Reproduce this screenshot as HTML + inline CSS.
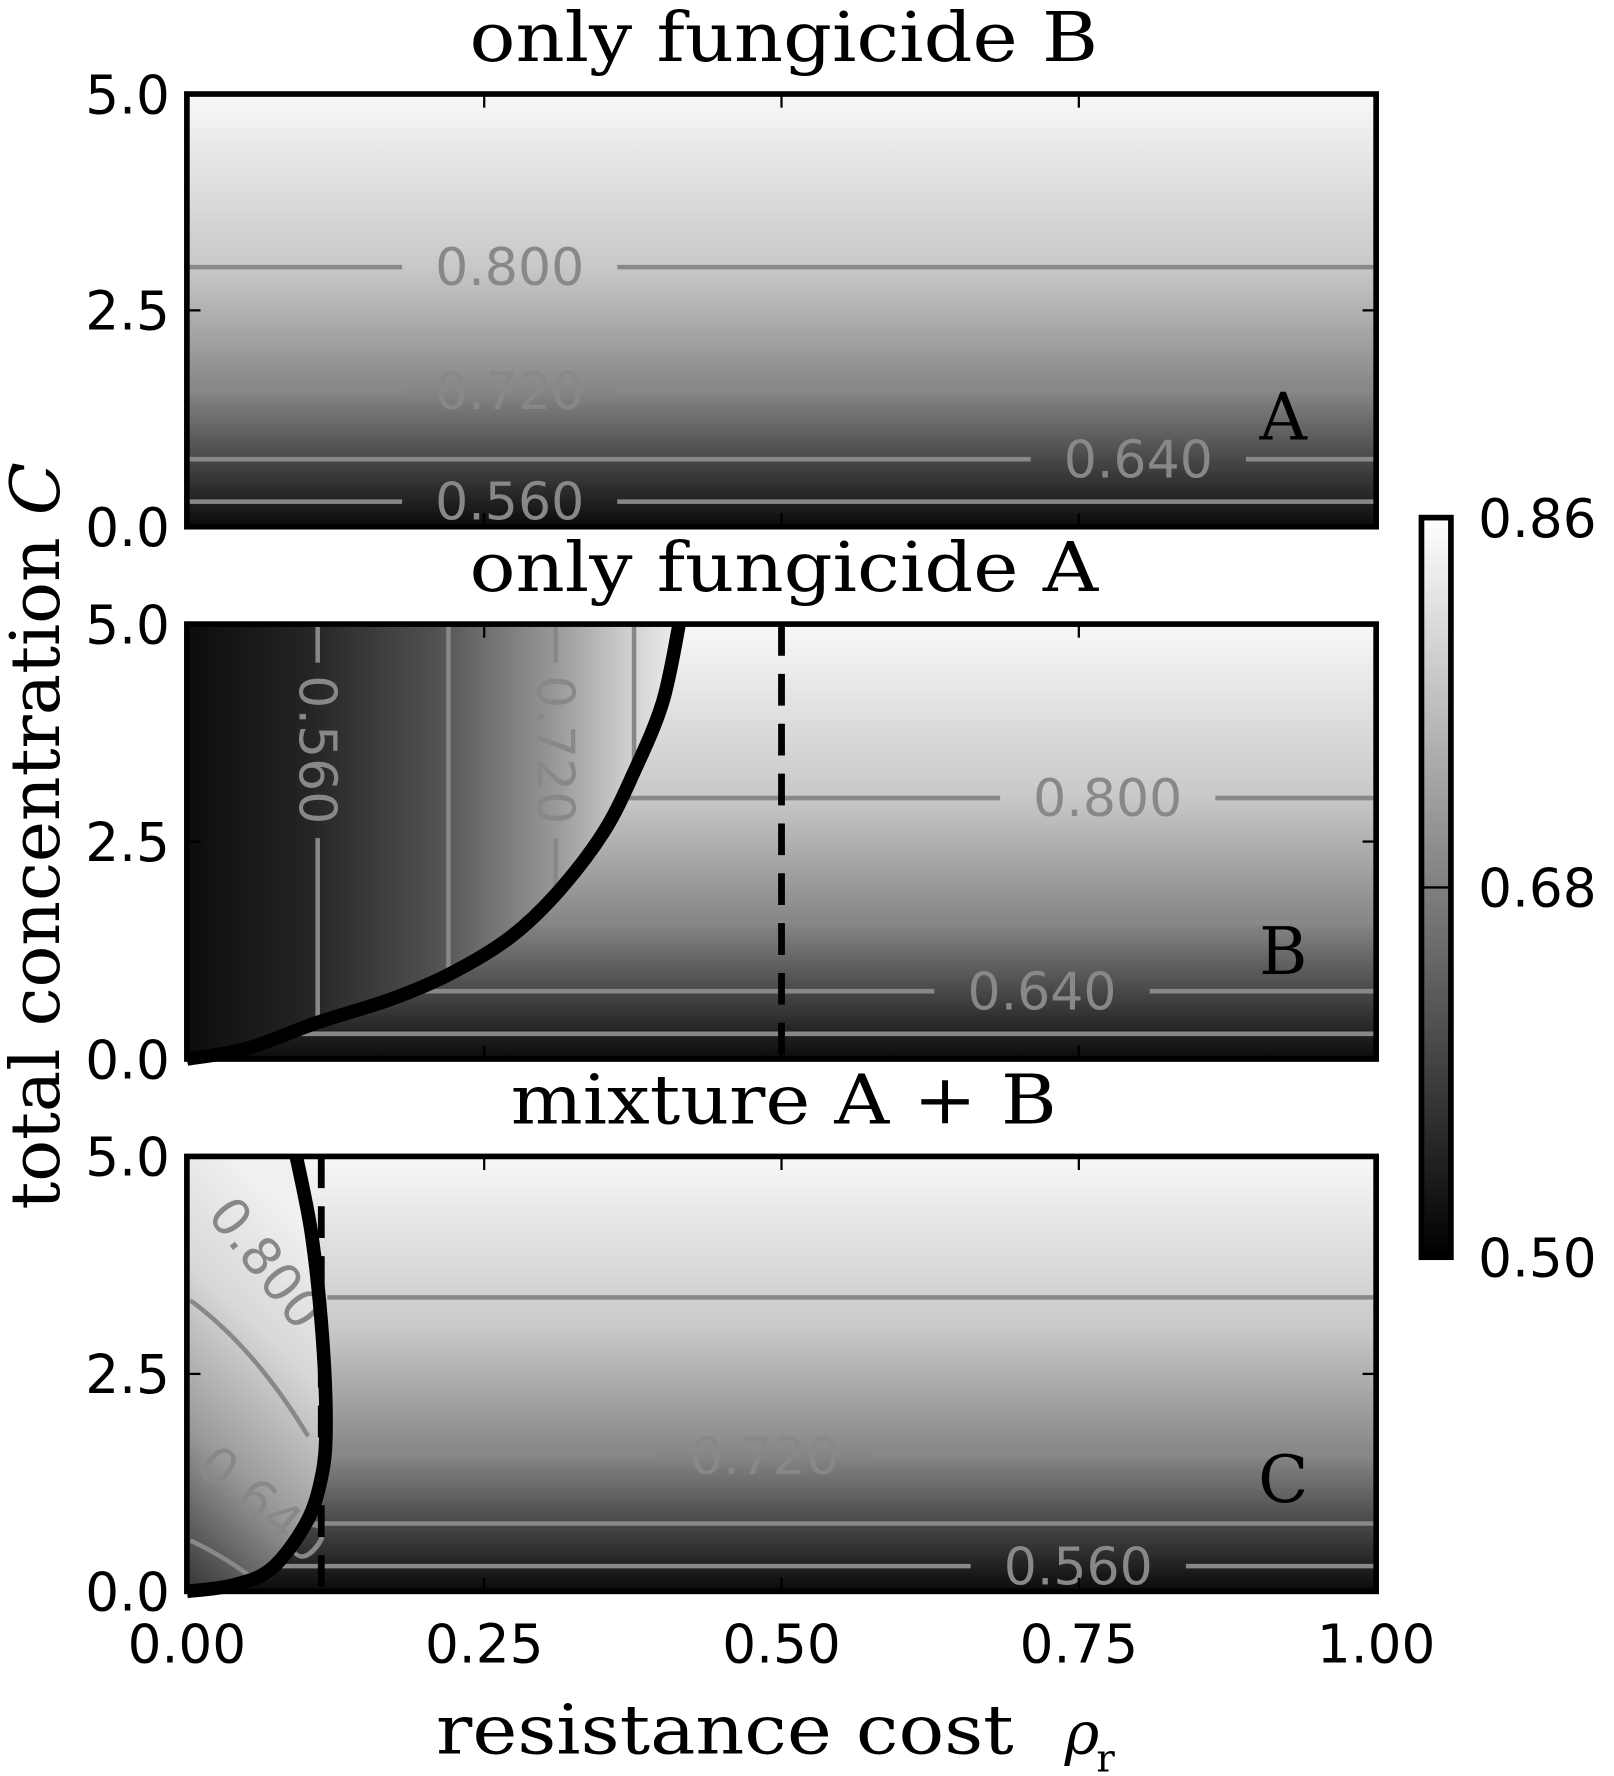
<!DOCTYPE html>
<html><head><meta charset="utf-8"><style>
html,body{margin:0;padding:0;background:#fff}
svg{display:block}
</style></head><body>
<svg id="fig" width="1614" height="1776" viewBox="0 0 1425 1568" xmlns="http://www.w3.org/2000/svg">
<defs>
<linearGradient id="vgrad" x1="0" y1="0" x2="0" y2="1">
<stop offset="0" stop-color="#f8f8f8"/><stop offset="0.4" stop-color="#c8c8c8"/><stop offset="0.69" stop-color="#858585"/><stop offset="0.84" stop-color="#4a4a4a"/><stop offset="0.94" stop-color="#222"/><stop offset="1" stop-color="#0a0a0a"/></linearGradient>
<linearGradient id="hgradB" x1="0" y1="0" x2="1" y2="0">
<stop offset="0" stop-color="#0c0c0c"/><stop offset="0.25" stop-color="#252525"/><stop offset="0.5" stop-color="#505050"/><stop offset="0.75" stop-color="#999"/><stop offset="0.9" stop-color="#d0d0d0"/><stop offset="1" stop-color="#eee"/></linearGradient>
<linearGradient id="gradC" x1="0" y1="1" x2="0.3" y2="0">
<stop offset="0" stop-color="#333"/><stop offset="0.35" stop-color="#999"/><stop offset="0.7" stop-color="#d8d8d8"/><stop offset="1" stop-color="#f0f0f0"/></linearGradient>
<linearGradient id="cbar" x1="0" y1="1" x2="0" y2="0"><stop offset="0" stop-color="#000"/><stop offset="1" stop-color="#fff"/></linearGradient>
</defs>
<g id="root"></g>
</svg>
<script>
// ---- data ----
const xTicks = [0, 0.25, 0.5, 0.75, 1.0];
const xTickLabels = ["0.00","0.25","0.50","0.75","1.00"];
const yTicks = [0, 2.5, 5.0];
const yTickLabels = ["0.0","2.5","5.0"];
const panelTitles = ["only fungicide B","only fungicide A","mixture A + B"];
const panelLetters = ["A","B","C"];
const hLevelsA = [3.0, 1.57, 0.78, 0.29];
const hLabelsA = ["0.800","0.720","0.640","0.560"];
const hLevelsB = [3.0, 1.57, 0.78, 0.29];
const hLabelsB = ["0.800","","0.640",""];
const hLevelsC = [3.38, 1.56, 0.78, 0.29];
const hLabelsC = ["","0.720","","0.560"];
const vLevelsB = [0.11, 0.22, 0.31, 0.376];
const vLabelsB = ["0.560","","0.720",""];
const curveBrho = [0, 0.05, 0.11, 0.17, 0.22, 0.27, 0.31, 0.35, 0.376, 0.40, 0.414];
const curveBC   = [0, 0.12, 0.42, 0.68, 0.97, 1.38, 1.89, 2.6, 3.3, 4.1, 5.0];
const curveCrho = [0, 0.038, 0.071, 0.1, 0.113, 0.117, 0.114, 0.105, 0.092];
const curveCC   = [0, 0.07, 0.26, 0.78, 1.3, 1.88, 2.92, 4.09, 5.0];
const dashB = 0.5, dashC = 0.113;
const cbarTicks = [0.50, 0.68, 0.86];

// ---- layout ----
const NS="http://www.w3.org/2000/svg";
const root=document.getElementById('root');
const X0=165,X1=1215;
const panels=[{top:83,bot:465},{top:551,bot:935},{top:1021,bot:1405}];
const sx=r=>X0+(X1-X0)*r;
function mk(tag,attrs,parent,text){const e=document.createElementNS(NS,tag);for(const k in attrs)e.setAttribute(k,attrs[k]);if(text!==undefined)e.textContent=text;(parent||root).appendChild(e);return e;}
const serif='"DejaVu Serif","Liberation Serif",serif', sans='"DejaVu Sans","Liberation Sans",sans-serif';
function smooth(pts){let d=`M${pts[0][0]},${pts[0][1]}`;for(let i=0;i<pts.length-1;i++){const p0=pts[Math.max(0,i-1)],p1=pts[i],p2=pts[i+1],p3=pts[Math.min(pts.length-1,i+2)];
 d+=` C${p1[0]+(p2[0]-p0[0])/6},${p1[1]+(p2[1]-p0[1])/6} ${p2[0]-(p3[0]-p1[0])/6},${p2[1]-(p3[1]-p1[1])/6} ${p2[0]},${p2[1]}`;}return d;}

panels.forEach((p,i)=>{
  const sy=c=>p.bot-(p.bot-p.top)*c/5;
  const g=mk('g',{});
  
  
  const bg=mk('rect',{x:X0,y:p.top,width:X1-X0,height:p.bot-p.top,fill:'url(#vgrad)'},g);
  
  
  const lv=[hLevelsA,hLevelsB,hLevelsC][i], lb=[hLabelsA,hLabelsB,hLabelsC][i];
  let curve=null;
  if(i===1){curve=curveBrho.map((r,k)=>[sx(r),sy(curveBC[k])]);}
  if(i===2){curve=curveCrho.map((r,k)=>[sx(r),sy(curveCC[k])]);}
  const curveXat=c=>{ if(!curve) return X0; const y=sy(c); for(let k=0;k<curve.length-1;k++){const a=curve[k],b=curve[k+1];if((y<=a[1]&&y>=b[1])||(y>=a[1]&&y<=b[1])){const t=(y-a[1])/((b[1]-a[1])||1);return a[0]+t*(b[0]-a[0]);}} return X0;};
  if(curve){
    const d=smooth(curve)+` L${X0},${p.top} L${X0},${p.bot} Z`;
    const reg=mk('path',{d:d,fill:i===1?'url(#hgradB)':'url(#gradC)'},g);
    
    
  }
  const labelX=[[450,450,1005,450],[978,978,920,978],[675,675,675,952]][i];
  lv.forEach((c,k)=>{
    const y=sy(c); let xs=i===2?curveXat(c)+8:(i===1?Math.max(X0,curveXat(c)):X0);
    const lab=lb[k];
    const lx=labelX[k];
    if(lab){
      mk('line',{x1:xs,y1:y,x2:lx-95,y2:y,stroke:'#888','stroke-width':4},g);
      mk('line',{x1:lx+95,y1:y,x2:X1,y2:y,stroke:'#888','stroke-width':4},g);
      const t=mk('text',{x:lx,y:y+16,'font-family':sans,'font-size':46,fill:'#888','text-anchor':'middle'},g,lab);
      
      
    } else mk('line',{x1:xs,y1:y,x2:X1,y2:y,stroke:'#888','stroke-width':4},g);
  });
  if(i===1){
    vLevelsB.forEach((r,k)=>{
      const x=sx(r); let ytop=p.top;
      let ybot=p.bot; for(let m=0;m<curve.length-1;m++){if(curve[m][0]<=x&&curve[m+1][0]>=x){const t=(x-curve[m][0])/(curve[m+1][0]-curve[m][0]);ybot=curve[m][1]+t*(curve[m+1][1]-curve[m][1]);}}
      if(vLabelsB[k]){
        mk('line',{x1:x,y1:ytop,x2:x,y2:585,stroke:'#888','stroke-width':4},g);
        mk('line',{x1:x,y1:740,x2:x,y2:ybot,stroke:'#888','stroke-width':4},g);
        const t=mk('text',{x:x,y:662,'font-family':sans,'font-size':46,fill:'#888','text-anchor':'middle',transform:`rotate(90 ${x} 662) translate(0 16)`},g,vLabelsB[k]);
        
        
      } else mk('line',{x1:x,y1:ytop,x2:x,y2:ybot,stroke:'#888','stroke-width':4},g);
    });
  }
  if(i===2){
    mk('path',{d:'M168,1148 Q225,1190 272,1268',stroke:'#888','stroke-width':4,fill:'none'},g);
    mk('path',{d:'M168,1360 Q200,1375 225,1395',stroke:'#888','stroke-width':4,fill:'none'},g);
    const t1=mk('text',{x:235,y:1115,'font-family':sans,'font-size':46,fill:'#888','text-anchor':'middle',transform:'rotate(52 235 1115) translate(0 16)'},g,'0.800');
    
    
    const t2=mk('text',{x:232,y:1328,'font-family':sans,'font-size':46,fill:'#888','text-anchor':'middle',transform:'rotate(40 232 1328) translate(0 16)'},g,'0.640');
    
    
  }
  if(curve){
    const dx=sx(i===1?dashB:dashC);
    const dl=mk('line',{x1:dx,y1:p.top,x2:dx,y2:p.bot,stroke:'#000','stroke-width':6,'stroke-dasharray':'28 16'},g);
    
    
    const cl=mk('path',{d:smooth(curve),fill:'none',stroke:'#000','stroke-width':12,'stroke-linejoin':'round'},g);
    
    
  }
  mk('rect',{x:X0,y:p.top,width:X1-X0,height:p.bot-p.top,fill:'none',stroke:'#000','stroke-width':5},g);
  xTicks.forEach(r=>{const x=sx(r);mk('line',{x1:x,y1:p.bot,x2:x,y2:p.bot-12,stroke:'#000','stroke-width':2},g);mk('line',{x1:x,y1:p.top,x2:x,y2:p.top+12,stroke:'#000','stroke-width':2},g);});
  yTicks.forEach((c,k)=>{const y=sy(c);mk('line',{x1:X0,y1:y,x2:X0+12,y2:y,stroke:'#000','stroke-width':2},g);mk('line',{x1:X1,y1:y,x2:X1-12,y2:y,stroke:'#000','stroke-width':2},g);
    const t=mk('text',{x:150,y:y+17,'font-family':sans,'font-size':47,'text-anchor':'end'},g,yTickLabels[k]);
    
    });
  const tw=[555,555,482][i];
  const ti=mk('text',{x:692-tw/2,y:p.top-29,'font-family':serif,'font-size':60,textLength:tw,lengthAdjust:'spacingAndGlyphs'},g,panelTitles[i]);
  
  
  const le=mk('text',{x:1133,y:[388,860,1326][i],'font-family':serif,'font-size':58,'text-anchor':'middle'},g,panelLetters[i]);
  
  
});
xTicks.forEach((r,k)=>{const t=mk('text',{x:sx(r),y:1468,'font-family':sans,'font-size':47,'text-anchor':'middle'},root,xTickLabels[k]);
  
  });
const xt=mk('text',{x:385,y:1548,'font-family':serif,'font-size':60,textLength:510,lengthAdjust:'spacingAndGlyphs'},root,'resistance cost');


const rho=mk('text',{x:940,y:1548,'font-family':serif,'font-size':52,'font-style':'italic'},root,'ρ');


mk('text',{x:968,y:1564,'font-family':serif,'font-size':34},root,'r');
const yt=mk('text',{x:-330,y:0,'font-family':serif,'font-size':60,textLength:660,lengthAdjust:'spacingAndGlyphs',transform:'translate(52 738) rotate(-90)'},root);


yt.innerHTML='total concentration <tspan font-style="italic">C</tspan>';
const cb=mk('rect',{x:1255,y:457,width:26,height:653,fill:'url(#cbar)',stroke:'#000','stroke-width':5});


cbarTicks.forEach(v=>{const y=1110-(v-0.5)/0.36*653;mk('line',{x1:1255,y1:y,x2:1281,y2:y,stroke:'#000','stroke-width':2});
  const t=mk('text',{x:1305,y:y+17,'font-family':sans,'font-size':47},root,v.toFixed(2));
  
  });
</script>
</body></html>
